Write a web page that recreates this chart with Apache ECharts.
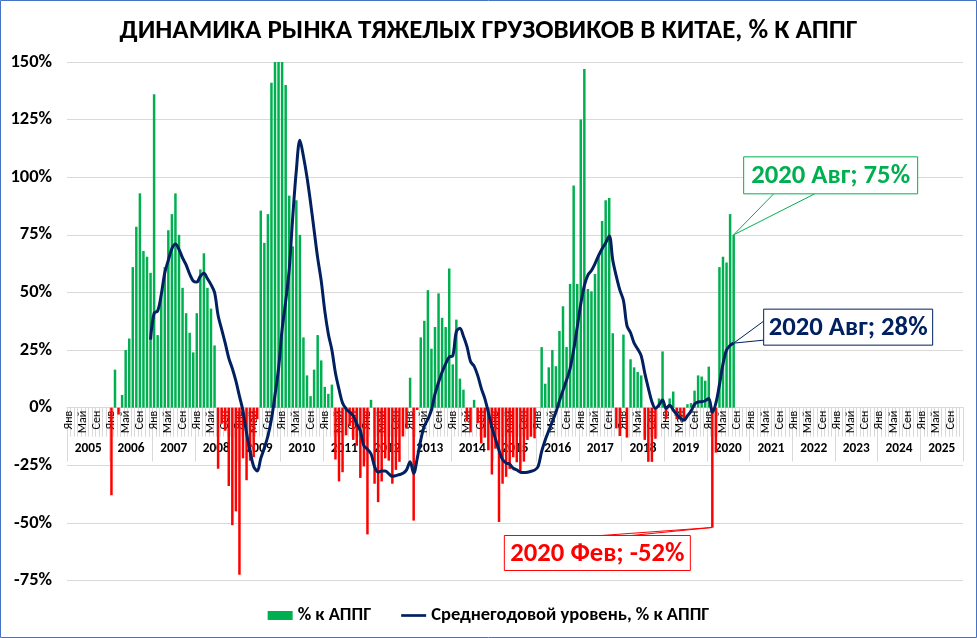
<!DOCTYPE html>
<html><head><meta charset="utf-8">
<script src="https://cdn.jsdelivr.net/npm/echarts@6/dist/echarts.min.js"></script>
<style>html,body{margin:0;padding:0;background:#fff}#c{width:977px;height:638px}</style>
</head><body><div id="c"></div><script>
// ---------- DATA ----------
const years = [2005,2006,2007,2008,2009,2010,2011,2012,2013,2014,2015,2016,2017,2018,2019,2020,2021,2022,2023,2024,2025];
const monthNames = ['Янв','Фев','Мар','Апр','Май','Июн','Июл','Авг','Сен','Окт','Ноя','Дек'];
const shownMonths = ['Янв','Май','Сен'];
const yTickMin = -75, yTickMax = 150, yTickStep = 25;

// % к АППГ (monthly, by year)
const yoy2005 = [null,null,null,null,null,null,null,null,null,null,null,null];
const yoy2006 = [-38,16.5,-3,5.5,25,30,61,78.5,93,68,65.5,58.5];
const yoy2007 = [136,31.5,50,61,77,84,93,75,52,41,32.5,24];
const yoy2008 = [41,60,67,52,43,27,-26.5,-7,-10,-34,-51,-45];
const yoy2009 = [-72.5,-22,-31.5,-23,-21.5,-5,85.5,71.5,84,141,175,185];
const yoy2010 = [170,140,92,70,90,75,30.5,14,5,16.5,31.5,20.5];
const yoy2011 = [9,6,10,-22.5,-32,-28,-12,-8,-14,-16.5,-30.5,-25.5];
const yoy2012 = [-55,3.4,-33,-41,-32,-22,-23,-33,-27,-23.5,-12.5,-9];
const yoy2013 = [13,-49,-1,30.5,37.7,51,25.6,35,49.6,39,35,60.4];
const yoy2014 = [18.8,38.2,12.6,7.8,-6,-10.7,3.4,-6.7,-15.5,-13,-18.5,-29];
const yoy2015 = [-17.8,-49.6,-33,-30,-26.6,-21.5,-23.7,-28,-23.4,-14,-12.6,-13.3];
const yoy2016 = [null,26.3,10.4,17.5,25,18,33.3,44,26.3,53.7,96.4,53.7];
const yoy2017 = [125,147,51.5,50.5,58,66,81,90,91,32.3,-9,-12.3];
const yoy2018 = [31.7,-13,21,17.5,15.5,14,-14,-23.5,-23.5,-13.5,4,24.4];
const yoy2019 = [-5,4,7,-5,-5,-5,1.5,2,7.4,14,13.5,11.7];
const yoy2020 = [17.8,-52,-19.5,61,65.5,63,84,75,null,null,null,null];
const yoyEmpty = [null,null,null,null,null,null,null,null,null,null,null,null];

// Среднегодовой уровень, % к АППГ
const avg2006 = [null,null,null,null,null,null,null,null,null,null,null,29.5];
const avg2007 = [41,42,49,58.5,64,69,71,68.7,65,62,58,55];
const avg2008 = [54.5,57,58.3,56,53.4,50,40,34,28,21.5,17,11.6];
const avg2009 = [5,-1.5,-11,-19,-25.5,-27.5,-22,-17.5,-12.3,-5,5.5,17];
const avg2010 = [34,46,60,83,103,116,109,100,89,77,65,55];
const avg2011 = [42,32,25,15,8,2,-0.5,-2,-3.5,-7,-10,-16.5];
const avg2012 = [-18,-20,-25.5,-28,-27.5,-27.5,-28.7,-29.8,-29.5,-29,-28.5,-27];
const avg2013 = [-23.5,-28.5,-22,-14,-8,-5,-1,6,11,15.5,19,22];
const avg2014 = [22.5,33,34.5,31,26.5,20,18,14,8.5,4,-2,-8.5];
const avg2015 = [-13.5,-18.5,-22.5,-24,-24.5,-26.3,-27,-28,-28.1,-28,-27.6,-27.1];
const avg2016 = [-25.5,-19,-14,-10,-6,-2,3,7.5,12,17,25,35];
const avg2017 = [45,53,57.5,59.5,62.5,66,69,71.5,74.5,64,57,51];
const avg2018 = [46.5,35.5,32.5,28,25.5,22.5,15,8.5,2.6,-0.3,1.2,3.3];
const avg2019 = [-0.3,1,-1,-3,-4.5,-5.5,-3.5,-1.5,1.5,2.5,2.6,3];
const avg2020 = [4,-2,2,10,19,25,27,28,null,null,null,null];

const annGreen = {cat:'2020 Авг', label:'2020 Авг; 75%'};
const annNavy  = {cat:'2020 Авг', label:'2020 Авг; 28%'};
const annRed   = {cat:'2020 Фев', label:'2020 Фев; -52%'};

// ---------- BUILD ----------
const categories = [];
years.forEach(y => monthNames.forEach(m => categories.push(y + ' ' + m)));
const yoy = [].concat(yoy2005,yoy2006,yoy2007,yoy2008,yoy2009,yoy2010,yoy2011,yoy2012,yoy2013,yoy2014,
  yoy2015,yoy2016,yoy2017,yoy2018,yoy2019,yoy2020,yoyEmpty,yoyEmpty,yoyEmpty,yoyEmpty,yoyEmpty);
const avg = [].concat(yoyEmpty,avg2006,avg2007,avg2008,avg2009,avg2010,avg2011,avg2012,avg2013,avg2014,
  avg2015,avg2016,avg2017,avg2018,avg2019,avg2020,yoyEmpty,yoyEmpty,yoyEmpty,yoyEmpty,yoyEmpty);

const GREEN='#00B050', RED='#FF0000', NAVY='#002060', GRID='#D9D9D9';
const FONT = 'Carlito, Calibri, "Liberation Sans Narrow", "Open Sans", sans-serif';

// layout
const W = 977, H = 638;
const gridTop = 62, gridBottom = 57.5, gridLeft = 67, gridRight = 14;
const plotH = H - gridTop - gridBottom;
const zeroOffset = -plotH * (0 - yTickMin) / (yTickMax - yTickMin); // lift category axis to the 0 line

const chart = echarts.init(document.getElementById('c'), null, {renderer:'canvas'});
const option = {
  animation:false,
  backgroundColor:'#fff',
  textStyle:{fontFamily:FONT},
  title:{text:'ДИНАМИКА РЫНКА ТЯЖЕЛЫХ ГРУЗОВИКОВ В КИТАЕ, % К АППГ', left:'center', top:13,
    textStyle:{fontFamily:FONT, fontSize:27, fontWeight:'bold', color:'#000'}},
  grid:{left:gridLeft, right:gridRight, top:gridTop, bottom:gridBottom},
  legend:{top:601, left:'center', itemGap:30, itemWidth:25, itemHeight:9,
    textStyle:{fontFamily:FONT, fontSize:18.5, fontWeight:'bold', color:'#000'},
    data:[{name:'% к АППГ', icon:'rect'},
          {name:'Среднегодовой уровень, % к АППГ', icon:'path://M0,0H28V3H0Z'}]},
  xAxis:[{
    type:'category', data:categories, gridIndex:0, boundaryGap:true, position:'bottom', offset:zeroOffset,
    axisLine:{show:true, onZero:false, lineStyle:{color:GRID, width:1}},
    axisTick:{show:true, interval:0, length:29, lineStyle:{color:GRID}},
    axisLabel:{interval:0, rotate:90, margin:3, fontSize:12, color:'#000', fontFamily:FONT,
      formatter:(v)=>{const m=v.split(' ')[1]; return shownMonths.indexOf(m)>=0?m:'';}},
    splitLine:{show:false}
  },{
    type:'category', data:years.map(String), gridIndex:0, boundaryGap:true, position:'bottom', offset:zeroOffset,
    axisLine:{show:false, onZero:false},
    axisTick:{show:true, interval:0, length:54, lineStyle:{color:GRID}},
    axisLabel:{interval:0, margin:35, fontSize:13.3, fontWeight:'bold', color:'#000', fontFamily:FONT},
    splitLine:{show:false}
  }],
  yAxis:{type:'value', min:yTickMin, max:yTickMax, interval:yTickStep,
    axisLine:{show:false}, axisTick:{show:false},
    axisLabel:{formatter:'{value}%', fontSize:18.5, fontWeight:'bold', color:'#000', margin:15, fontFamily:FONT},
    splitLine:{lineStyle:{color:GRID, width:1}}},
  series:[{
    name:'% к АППГ', type:'bar', xAxisIndex:0, yAxisIndex:0, barWidth:'70%', clip:true,
    itemStyle:{color:GREEN},
    data: yoy.map(v => (v!=null && v<0) ? {value:v, itemStyle:{color:RED}} : v)
  },{
    name:'Среднегодовой уровень, % к АППГ', type:'line', xAxisIndex:0, yAxisIndex:0,
    data:avg, smooth:0.35, showSymbol:false, symbol:'none', connectNulls:false,
    lineStyle:{color:NAVY, width:3}, itemStyle:{color:NAVY}, z:5
  }]
};
chart.setOption(option);

function px(cat, val){ return chart.convertToPixel({xAxisIndex:0, yAxisIndex:0}, [cat, val]); }
const gIdx = categories.indexOf(annGreen.cat);
const rIdx = categories.indexOf(annRed.cat);
const pG = px(annGreen.cat, yoy[gIdx]);
const pN = px(annNavy.cat, avg[gIdx]);
const pR = px(annRed.cat, yoy[rIdx]);

function box(x,y,w,h,color,text){
  return [
    {type:'rect', shape:{x:x,y:y,width:w,height:h}, style:{fill:'#fff', stroke:color, lineWidth:1}, z:20},
    {type:'text', x:x+w/2, y:y+h/2+1, style:{text:text, fill:color, font:'bold 26.7px '+FONT, align:'center', verticalAlign:'middle'}, z:21}
  ];
}
const gBox = {x:pG[0]+10, y:pG[1]-78, w:174, h:37};
const nBox = {x:pN[0]+30, y:pN[1]-34, w:169, h:36};
const rBox = {x:pR[0]-208, y:pR[1]+8, w:186, h:35};
const graphics = [
  {type:'polyline', shape:{points:[[gBox.x+30,gBox.y+gBox.h],[pG[0],pG[1]],[gBox.x+71,gBox.y+gBox.h]]}, style:{stroke:GREEN, lineWidth:1, fill:null}, z:19},
  {type:'polyline', shape:{points:[[nBox.x,nBox.y+12],[pN[0],pN[1]],[nBox.x,nBox.y+31]]}, style:{stroke:NAVY, lineWidth:1, fill:null}, z:19},
  {type:'polyline', shape:{points:[[rBox.x+97,rBox.y],[pR[0],pR[1]],[rBox.x+127,rBox.y]]}, style:{stroke:RED, lineWidth:1, fill:null}, z:19},
  ...box(gBox.x,gBox.y,gBox.w,gBox.h,GREEN,annGreen.label),
  ...box(nBox.x,nBox.y,nBox.w,nBox.h,NAVY,annNavy.label),
  ...box(rBox.x,rBox.y,rBox.w,rBox.h,RED,annRed.label),
  {type:'rect', shape:{x:0.5,y:0.5,width:976,height:637}, style:{fill:null, stroke:'#4472C4', lineWidth:1}, z:30, silent:true}
];
chart.setOption({graphic:graphics});
</script></body></html>
